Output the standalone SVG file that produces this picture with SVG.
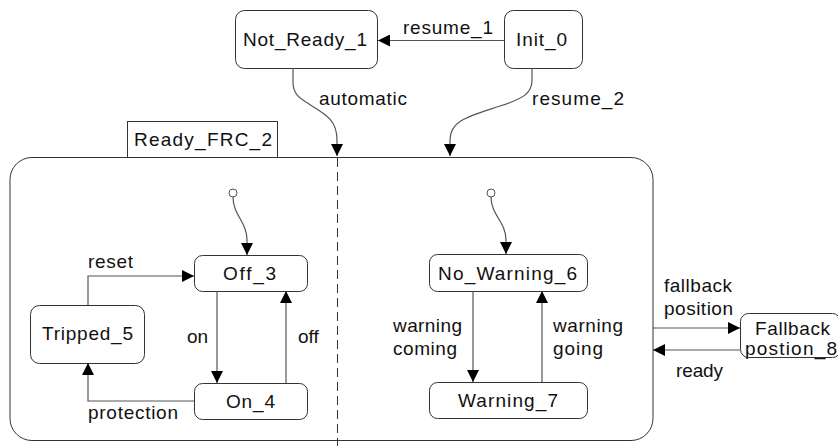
<svg xmlns="http://www.w3.org/2000/svg" width="838" height="446" viewBox="0 0 838 446">
<style>
.box{fill:#fff;stroke:#333;stroke-width:1}
.t{font-family:"Liberation Sans",Arial,sans-serif;font-size:19px;fill:#111}
.c{fill:none;stroke:#555;stroke-width:1.2;marker-end:url(#ah)}
.init{fill:#fff;stroke:#555;stroke-width:1}
</style>
<defs>
<marker id="ah" viewBox="0 0 12 12" refX="12" refY="6" markerWidth="12" markerHeight="12" markerUnits="userSpaceOnUse" orient="auto">
<path d="M0,0 L12,6 L0,12 z" fill="#000"/>
</marker>
</defs>
<g id="Ready_FRC_2">
<rect class="box" x="10" y="157.5" width="643" height="283" rx="22"/>
<line x1="337.5" y1="158" x2="337.5" y2="446" stroke="#333" stroke-width="1" stroke-dasharray="9,5"/>
<rect class="box" x="127.5" y="121.5" width="150" height="36"/>
<text class="t" x="134" y="146" textLength="138" lengthAdjust="spacing">Ready_FRC_2</text>
</g>
<g id="Not_Ready_1">
<rect class="box" x="235.5" y="10.5" width="142" height="58" rx="9"/>
<text class="t" x="243" y="46" textLength="124" lengthAdjust="spacing">Not_Ready_1</text>
</g>
<g id="Init_0">
<rect class="box" x="504.5" y="10.5" width="78" height="58" rx="9"/>
<text class="t" x="516" y="46" textLength="51" lengthAdjust="spacing">Init_0</text>
</g>
<g id="Off_3">
<rect class="box" x="194.5" y="255.5" width="113" height="36" rx="8"/>
<text class="t" x="223" y="280" textLength="53" lengthAdjust="spacing">Off_3</text>
</g>
<g id="On_4">
<rect class="box" x="194.5" y="383.5" width="113" height="36" rx="8"/>
<text class="t" x="226" y="408" textLength="49" lengthAdjust="spacing">On_4</text>
</g>
<g id="Tripped_5">
<rect class="box" x="30.5" y="305.5" width="114" height="58" rx="9"/>
<text class="t" x="42" y="340" textLength="91" lengthAdjust="spacing">Tripped_5</text>
</g>
<g id="No_Warning_6">
<rect class="box" x="429.5" y="254.5" width="158" height="37" rx="8"/>
<text class="t" x="438" y="280" textLength="139" lengthAdjust="spacing">No_Warning_6</text>
</g>
<g id="Warning_7">
<rect class="box" x="429.5" y="382.5" width="158" height="36" rx="8"/>
<text class="t" x="458" y="407" textLength="100" lengthAdjust="spacing">Warning_7</text>
</g>
<g id="Fallback_postion_8">
<rect class="box" x="740.5" y="313.5" width="100" height="44" rx="8"/>
<text class="t" x="755" y="335" textLength="75" lengthAdjust="spacing">Fallback</text>
<text class="t" x="745" y="355" textLength="92" lengthAdjust="spacing">postion_8</text>
</g>
<g id="initial_left">
<circle class="init" cx="233" cy="193" r="4"/>
</g>
<g id="initial_right">
<circle class="init" cx="491" cy="193" r="4"/>
</g>
<g id="connectors">
<path class="c" d="M504,40.5 H378"/>
<path class="c" d="M293,68 L293,82 C293,95 300,98 312,106 C325,114 337,120 337,140 L337,156"/>
<path class="c" d="M532,68 L532,80 C532,94 522,99 500,106 C470,116 450,120 450,140 L450,156"/>
<path class="c" d="M233,197 C233,215 247,222 247,240 L247,255"/>
<path class="c" d="M491,197 C491,215 506,222 506,240 L506,254"/>
<path class="c" d="M88,305 V276 H194"/>
<path class="c" d="M217,291 V383"/>
<path class="c" d="M286,383 V291"/>
<path class="c" d="M194,401 H88 V363"/>
<path class="c" d="M473,291 V382"/>
<path class="c" d="M542,382 V291"/>
<path class="c" d="M653,328 H740"/>
<path class="c" d="M740,350 H653"/>
</g>
<g id="labels">
<text class="t" x="403" y="34" textLength="90" lengthAdjust="spacing">resume_1</text>
<text class="t" x="319" y="105" textLength="88" lengthAdjust="spacing">automatic</text>
<text class="t" x="532" y="105" textLength="92" lengthAdjust="spacing">resume_2</text>
<text class="t" x="88" y="268" textLength="45" lengthAdjust="spacing">reset</text>
<text class="t" x="187" y="343">on</text>
<text class="t" x="298" y="343">off</text>
<text class="t" x="88" y="419" textLength="90" lengthAdjust="spacing">protection</text>
<text class="t" x="393" y="332" textLength="69" lengthAdjust="spacing">warning</text>
<text class="t" x="393" y="355" textLength="64" lengthAdjust="spacing">coming</text>
<text class="t" x="553" y="332" textLength="70" lengthAdjust="spacing">warning</text>
<text class="t" x="553" y="355" textLength="50" lengthAdjust="spacing">going</text>
<text class="t" x="664" y="292" textLength="68" lengthAdjust="spacing">fallback</text>
<text class="t" x="664" y="315" textLength="69" lengthAdjust="spacing">position</text>
<text class="t" x="676" y="377" textLength="47" lengthAdjust="spacing">ready</text>
</g>
</svg>
